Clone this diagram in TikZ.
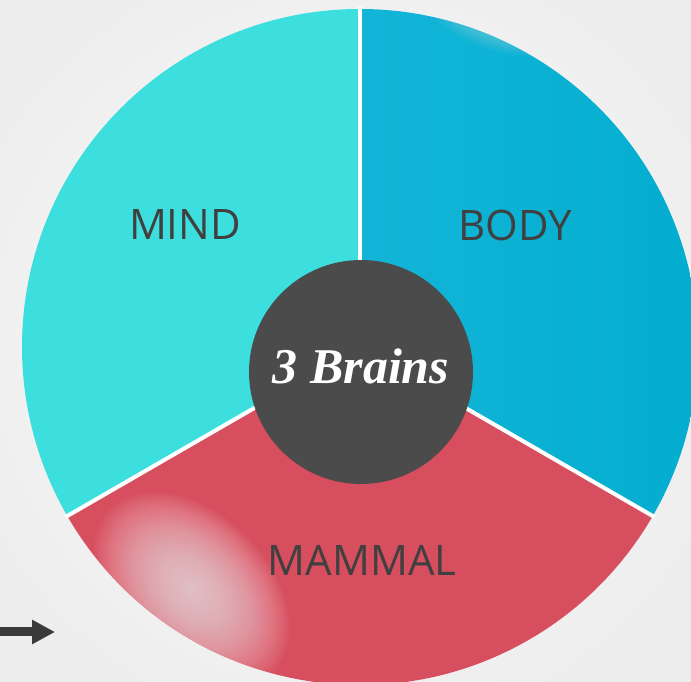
\documentclass[tikz,border=0pt]{standalone}
\usepackage{fontspec}
\newfontfamily\labelfont{Open Sans}
\newfontfamily\brainfont{Liberation Serif}
\usetikzlibrary{arrows.meta}
\definecolor{mindc}{HTML}{3CDEDE}
\definecolor{bodyl}{HTML}{13B5D7}
\definecolor{bodyr}{HTML}{03ADCF}
\definecolor{mammalc}{HTML}{D74E5F}
\definecolor{glarec}{HTML}{FBE6EA}
\definecolor{hubc}{HTML}{4B4B4B}
\definecolor{labelc}{HTML}{404040}
\definecolor{arrowc}{HTML}{3A3A3A}
\begin{document}
\begin{tikzpicture}[x=1pt,y=1pt,
  seclabel/.style={font=\labelfont\fontsize{42}{42}\selectfont, text=labelc, inner sep=0pt},
  sepline/.style={white, line width=4pt},
  hubstyle/.style={circle, fill=hubc, minimum size=224pt, inner sep=0pt}]
\useasboundingbox (0,0) rectangle (691,682);
\shade[inner color=white, outer color=black!7] (-60,-60) rectangle (751,742);
\begin{scope}
\clip (0,0) rectangle (691,682);
\coordinate (c) at (360,335);
% MIND sector
\fill[mindc] (c) -- ++(90:338) arc[start angle=90, end angle=210, radius=338] -- cycle;
% BODY sector
\begin{scope}
\clip (c) -- ++(-30:338) arc[start angle=-30, end angle=90, radius=338] -- cycle;
\shade[left color=bodyl, right color=bodyr] (360,-10) rectangle (700,680);
\foreach \r in {60,58,...,2} {
  \fill[white, opacity=0.022, rotate around={-20:(495,668)}] (495,668) ellipse ({1.3*\r} and {0.6*\r});
}
\end{scope}
% MAMMAL sector
\begin{scope}
\clip (c) -- ++(210:338) arc[start angle=210, end angle=330, radius=338] -- cycle;
\fill[mammalc] (0,-10) rectangle (700,340);
\foreach \r in {96,94,...,2} {
  \fill[glarec, opacity=0.035, rotate around={-45:(192,92)}] (192,92) ellipse ({1.2*\r} and {0.8*\r});
}
\end{scope}
% separators
\draw[sepline] (c) -- ++(90:340);
\draw[sepline] (c) -- ++(210:340);
\draw[sepline] (c) -- ++(330:340);
\end{scope}
% hub
\node[hubstyle] (hub) at (361,310) {};
\node[text=white, font=\brainfont\bfseries\itshape\fontsize{50}{50}\selectfont] (brains) at (361,316) {3 Brains};
% labels
\node[seclabel] (mind) at (185,457) {MIND};
\node[seclabel] (body) at (515,457) {BODY};
\node[seclabel] (mammal) at (362,122) {MAMMAL};
% arrow
\coordinate (as) at (0,50);
\coordinate (ae) at (55,50);
\draw[arrowc, line width=9pt, -{Triangle[length=23pt, width=23pt]}] (as) -- (ae);
\end{tikzpicture}
\end{document}
